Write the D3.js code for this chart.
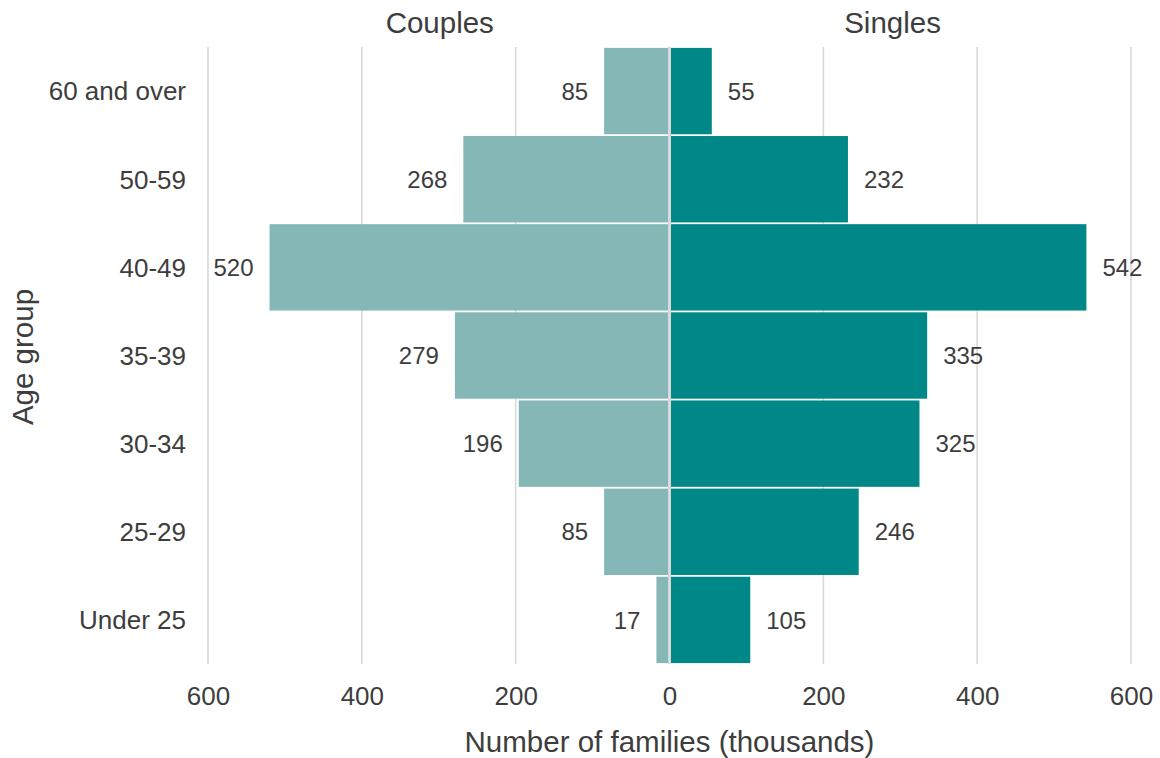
<!DOCTYPE html>
<html><head><meta charset="utf-8">
<script src="https://cdn.jsdelivr.net/npm/d3@7"></script>
<style>body{margin:0;background:#fff;} svg{display:block;font-family:"Liberation Sans",Arial,Helvetica,sans-serif;}</style>
</head><body>
<svg id="chart" width="1160" height="758"></svg>
<script>
const ageGroups = ["60 and over","50-59","40-49","35-39","30-34","25-29","Under 25"];
const couples = [85,268,520,279,196,85,17];
const singles = [55,232,542,335,325,246,105];
const xTicks = [-600,-400,-200,0,200,400,600];
const panelTitles = ["Couples","Singles"];
const xTitle = "Number of families (thousands)";
const yTitle = "Age group";

const svg = d3.select("#chart");
const textCol = "#3d3d3d";
const FONT = '"Liberation Sans",Arial,Helvetica,sans-serif';
const x = d3.scaleLinear().domain([-600,600]).range([208,1131]);
const y = d3.scaleBand().domain(ageGroups).range([47,664]).paddingInner(0.02).paddingOuter(0.01);

// gridlines
svg.append("g").selectAll("line").data(xTicks).join("line")
  .attr("x1",d=>x(d)).attr("x2",d=>x(d)).attr("y1",47).attr("y2",664)
  .attr("stroke","#d9d9d9").attr("stroke-width",1.6);

// bars
svg.append("g").selectAll("rect").data(ageGroups).join("rect")
  .attr("x",(d,i)=>x(-couples[i])).attr("width",(d,i)=>x(0)-x(-couples[i]))
  .attr("y",d=>y(d)).attr("height",y.bandwidth())
  .attr("fill","#85b7b7");
svg.append("g").selectAll("rect").data(ageGroups).join("rect")
  .attr("x",x(0)).attr("width",(d,i)=>x(singles[i])-x(0))
  .attr("y",d=>y(d)).attr("height",y.bandwidth())
  .attr("fill","#008787");

// zero line on top
svg.append("line").attr("x1",x(0)).attr("x2",x(0)).attr("y1",47).attr("y2",664)
  .attr("stroke","#d9d9d9").attr("stroke-width",3);

// value labels
svg.append("g").selectAll("text").data(ageGroups).join("text")
  .attr("x",(d,i)=>x(-couples[i])-16).attr("y",d=>y(d)+y.bandwidth()/2)
  .attr("dy","0.36em").attr("text-anchor","end").attr("font-size",24).attr("fill",textCol)
  .text((d,i)=>couples[i]);
svg.append("g").selectAll("text").data(ageGroups).join("text")
  .attr("x",(d,i)=>x(singles[i])+16).attr("y",d=>y(d)+y.bandwidth()/2)
  .attr("dy","0.36em").attr("text-anchor","start").attr("font-size",24).attr("fill",textCol)
  .text((d,i)=>singles[i]);

// x axis
const xAxis = d3.axisBottom(x).tickValues(xTicks).tickFormat(d=>Math.abs(d)).tickSize(0).tickPadding(0);
const gx = svg.append("g").attr("transform","translate(0,687)").call(xAxis);
gx.attr("font-family",FONT).attr("font-size",26);
gx.select(".domain").remove();
gx.selectAll("text").attr("fill",textCol);

// y axis
const yAxis = d3.axisLeft(y).tickSize(0).tickPadding(0);
const gy = svg.append("g").attr("transform","translate(186,0)").call(yAxis);
gy.attr("font-family",FONT).attr("font-size",26);
gy.select(".domain").remove();
gy.selectAll("text").attr("fill",textCol).attr("dy","0.36em");

// titles
svg.append("text").attr("x",x(-300)+1).attr("y",33).attr("text-anchor","middle")
  .attr("font-size",29.5).attr("fill",textCol).text(panelTitles[0]);
svg.append("text").attr("x",x(290)).attr("y",33).attr("text-anchor","middle")
  .attr("font-size",29.5).attr("fill",textCol).text(panelTitles[1]);
svg.append("text").attr("x",x(0)).attr("y",752).attr("text-anchor","middle")
  .attr("font-size",29.5).attr("fill",textCol).text(xTitle);
svg.append("text").attr("transform","translate(33,357) rotate(-90)").attr("text-anchor","middle")
  .attr("font-size",29.5).attr("fill",textCol).text(yTitle);
</script>
</body></html>
